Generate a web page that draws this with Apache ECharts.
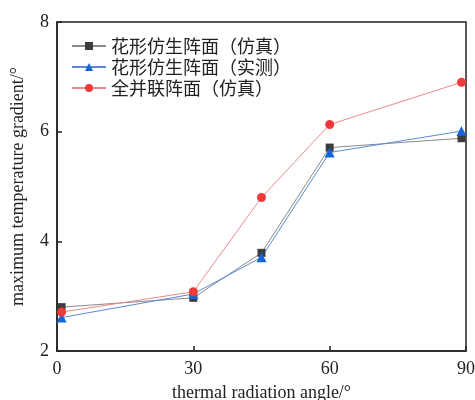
<!DOCTYPE html>
<html><head><meta charset="utf-8">
<script src="https://cdn.jsdelivr.net/npm/echarts@6/dist/echarts.min.js"></script>
<style>html,body{margin:0;padding:0;background:#fff}#c{width:475px;height:400px}</style>
</head><body><div id="c"></div>
<script>
const xValues = [1, 30, 45, 60, 89];
const seriesNames = ['花形仿生阵面（仿真）', '花形仿生阵面（实测）', '全并联阵面（仿真）'];
const flowerSim = [2.80, 2.97, 3.79, 5.71, 5.88];
const flowerMeas = [2.61, 3.04, 3.71, 5.62, 6.01];
const parallelSim = [2.71, 3.08, 4.80, 6.13, 6.90];
const xTicks = [0, 30, 60, 90];
const yTicks = [2, 4, 6, 8];

const pair = arr => xValues.map((x, i) => [x, arr[i]]);
const chart = echarts.init(document.getElementById('c'));
const serif = 'Liberation Serif';
chart.setOption({
  animation: false,
  backgroundColor: '#fff',
  grid: {left: 57, right: 9, top: 22, bottom: 49, containLabel: false, outerBoundsMode: 'none',
    show: true, borderColor: '#222', borderWidth: 1.5, backgroundColor: 'transparent'},
  legend: {
    orient: 'vertical', left: 66, top: 32, itemWidth: 34, itemHeight: 10, itemGap: 3,
    textStyle: {fontFamily: 'Noto Sans CJK SC', fontSize: 18, color: '#222'},
    data: seriesNames
  },
  xAxis: {
    type: 'value', min: 0, max: 90, interval: 30,
    name: 'thermal radiation angle/°', nameLocation: 'middle', nameGap: 33,
    nameTextStyle: {fontFamily: serif, fontSize: 18, color: '#222'},
    axisLine: {lineStyle: {color: '#222', width: 1.5}},
    axisTick: {inside: true, length: 5, lineStyle: {color: '#222', width: 1.5}},
    axisLabel: {fontFamily: serif, fontSize: 18, color: '#222', margin: 9,
      formatter: v => xTicks.includes(v) ? String(v) : ''},
    splitLine: {show: false}
  },
  yAxis: {
    type: 'value', min: 2, max: 8, interval: 2,
    name: 'maximum temperature gradient/°', nameLocation: 'middle', nameGap: 30,
    nameTextStyle: {fontFamily: serif, fontSize: 18, color: '#222'},
    axisLine: {show: true, lineStyle: {color: '#222', width: 1.5}},
    axisTick: {show: true, inside: true, length: 5, lineStyle: {color: '#222', width: 1.5}},
    axisLabel: {fontFamily: serif, fontSize: 18, color: '#222', margin: 8,
      formatter: v => yTicks.includes(v) ? String(v) : ''},
    splitLine: {show: false}
  },
  series: [
    {name: seriesNames[0], type: 'line', data: pair(flowerSim), symbol: 'rect', symbolSize: 8,
      itemStyle: {color: '#3c3c3c'}, lineStyle: {color: '#8a8a8a', width: 1}},
    {name: seriesNames[1], type: 'line', data: pair(flowerMeas), symbol: 'triangle', symbolSize: 10,
      itemStyle: {color: '#1565d8'}, lineStyle: {color: '#5b8ad6', width: 1}},
    {name: seriesNames[2], type: 'line', data: pair(parallelSim), symbol: 'circle', symbolSize: 9,
      itemStyle: {color: '#f03a3a'}, lineStyle: {color: '#eb8a8e', width: 1}}
  ]
});
</script></body></html>
